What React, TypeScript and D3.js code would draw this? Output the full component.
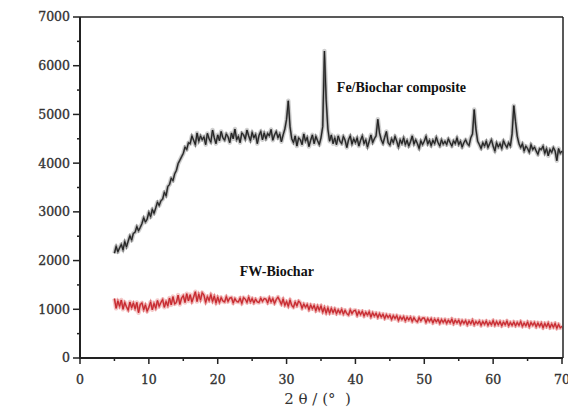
import React from "react";
import * as d3 from "d3";

const X_START = 5;
const X_STEP = 0.25;

// Fe/Biochar composite intensities, 2θ = 5 … 70 step 0.25
const feBiochar: number[] = [
  2150, 2290, 2180, 2260,
  2330, 2220, 2390, 2280,
  2400, 2510, 2420, 2560,
  2580, 2700, 2610, 2680,
  2760, 2880, 2790, 2850,
  2990, 2900, 3050, 2970,
  3080, 3200, 3130, 3230,
  3260, 3400, 3330, 3520,
  3560, 3690, 3640, 3780,
  3850, 3990, 4060, 4130,
  4200, 4330, 4280, 4420,
  4400, 4560, 4470, 4380,
  4620, 4450, 4560, 4480,
  4540, 4380, 4610, 4500,
  4430, 4680, 4520, 4400,
  4580, 4460, 4650, 4520,
  4470, 4600, 4540, 4420,
  4620, 4500, 4700, 4480,
  4550, 4420, 4620, 4580,
  4490, 4680, 4560, 4460,
  4630, 4520, 4590, 4400,
  4570, 4650, 4480, 4620,
  4500, 4610, 4560, 4690,
  4470, 4580, 4650, 4520,
  4600, 4440, 4580, 4700,
  4900, 5280, 4750, 4500,
  4420, 4560, 4350, 4520,
  4480, 4380, 4600, 4450,
  4530, 4340, 4470, 4580,
  4400, 4550, 4460, 4380,
  4520, 4750, 6300, 5300,
  4700, 4450, 4580, 4400,
  4520, 4380, 4560, 4450,
  4400, 4550, 4470, 4320,
  4480, 4560, 4390, 4500,
  4420, 4520, 4350, 4470,
  4560, 4400, 4480, 4330,
  4450, 4580, 4420, 4500,
  4560, 4900, 4620, 4480,
  4400, 4530, 4650, 4420,
  4370, 4500, 4420, 4550,
  4450, 4330, 4480, 4400,
  4520, 4380, 4470, 4350,
  4440, 4560, 4390, 4480,
  4400, 4300, 4460, 4380,
  4450, 4550, 4390, 4470,
  4360, 4470, 4400, 4530,
  4420, 4350, 4480, 4390,
  4450, 4380, 4500, 4420,
  4350, 4460, 4400, 4520,
  4380, 4450, 4330, 4420,
  4480, 4400, 4360, 4520,
  4600, 5100, 4700, 4450,
  4380, 4300, 4420, 4350,
  4450, 4320, 4400, 4480,
  4350, 4250, 4420, 4330,
  4400, 4300, 4460, 4380,
  4320, 4420, 4350, 4600,
  5180, 4850, 4550, 4400,
  4320, 4400, 4250, 4350,
  4300, 4220, 4380, 4280,
  4330, 4250, 4180, 4300,
  4280, 4350, 4200, 4300,
  4150, 4280, 4220, 4320,
  4250, 4050, 4300, 4200,
  4250,
];

// FW-Biochar intensities, 2θ = 5 … 70 step 0.25
const fwBiochar: number[] = [
  1220, 1020, 1170, 1060,
  1190, 1000, 1140, 1050,
  980, 1150, 1030, 1130,
  1010, 1140, 930, 1100,
  1130, 990, 1090, 960,
  1040, 1150, 990, 1120,
  1020, 1180, 1060, 1140,
  1200, 1040, 1160, 1070,
  1230, 1090, 1260, 1110,
  1140, 1290, 1100, 1230,
  1280, 1140, 1320, 1170,
  1300, 1150, 1250, 1360,
  1160, 1310, 1190, 1340,
  1290, 1140, 1260, 1180,
  1300, 1160, 1270, 1130,
  1250, 1140, 1240, 1170,
  1150, 1260, 1160, 1230,
  1240, 1130, 1220, 1160,
  1150, 1230, 1120, 1240,
  1210, 1140, 1250, 1150,
  1220, 1130, 1210, 1150,
  1140, 1230, 1160, 1220,
  1210, 1130, 1240, 1150,
  1220, 1120, 1200, 1250,
  1180, 1100, 1210, 1080,
  1160, 1060, 1190, 1080,
  1040, 1150, 1070, 1170,
  1130, 1020, 1110, 1040,
  1100, 990, 1090, 1010,
  1080, 970, 1070, 980,
  1070, 940, 1040, 920,
  1030, 920, 1020, 930,
  1010, 910, 990, 920,
  1000, 900, 980, 910,
  880, 990, 910, 970,
  980, 870, 960, 890,
  960, 860, 940, 880,
  950, 840, 930, 860,
  920, 830, 910, 840,
  900, 810, 890, 830,
  880, 790, 870, 810,
  870, 770, 850, 790,
  850, 760, 840, 780,
  840, 750, 830, 770,
  740, 830, 760, 820,
  820, 730, 810, 750,
  810, 720, 800, 740,
  800, 710, 790, 730,
  790, 710, 780, 720,
  800, 700, 780, 720,
  780, 690, 770, 710,
  770, 680, 760, 700,
  780, 680, 750, 700,
  760, 670, 750, 690,
  760, 670, 740, 680,
  770, 670, 750, 680,
  750, 660, 740, 680,
  760, 660, 730, 670,
  740, 660, 730, 670,
  750, 650, 720, 660,
  740, 640, 730, 670,
  730, 640, 720, 650,
  720, 620, 710, 640,
  720, 620, 700, 630,
  710, 610, 690, 620,
  650,
];

const xTicks = [0, 10, 20, 30, 40, 50, 60, 70];
const xMinorTicks = [5, 15, 25, 35, 45, 55, 65];
const yTicks = [0, 1000, 2000, 3000, 4000, 5000, 6000, 7000];
const yMinorTicks = [500, 1500, 2500, 3500, 4500, 5500, 6500];
const labelFe = "Fe/Biochar composite";
const labelFw = "FW-Biochar";
const xAxisTitle = "2 θ / (°  )";

export default function App() {
  const W = 568;
  const H = 409;
  const left = 80;
  const right = 562;
  const top = 17;
  const bottom = 358;

  const x = d3.scaleLinear().domain([0, 70]).range([left, right]);
  const y = d3.scaleLinear().domain([0, 7000]).range([bottom, top]);

  const line = d3
    .line<number>()
    .x((_, i) => x(X_START + i * X_STEP))
    .y((d) => y(d));

  const tickFont = "'DejaVu Serif', 'Liberation Serif', serif";
  const feD = line(feBiochar) || "";
  const fwD = line(fwBiochar) || "";

  return (
    <svg
      width={W}
      height={H}
      style={{ position: "absolute", left: 0, top: 0, background: "#fff" }}
    >
      {/* data */}
      <path d={feD} fill="none" stroke="#777" strokeWidth={4.5} strokeOpacity={0.35} strokeLinejoin="round" />
      <path d={feD} fill="none" stroke="#333" strokeWidth={2} strokeOpacity={0.6} />
      <path d={feD} fill="none" stroke="#1e1e1e" strokeWidth={1} />
      <path d={fwD} fill="none" stroke="#e06868" strokeWidth={4.5} strokeOpacity={0.35} strokeLinejoin="round" />
      <path d={fwD} fill="none" stroke="#d03035" strokeWidth={2} strokeOpacity={0.6} />
      <path d={fwD} fill="none" stroke="#c4242a" strokeWidth={1} />

      {/* frame */}
      <line x1={left} x2={right + 1} y1={top} y2={top} stroke="#222" strokeWidth={1.5} />
      <line x1={right + 1} x2={right + 1} y1={top} y2={bottom} stroke="#222" strokeWidth={1.5} />
      <line x1={left} x2={left} y1={top} y2={bottom + 1} stroke="#222" strokeWidth={2} />
      <line x1={left - 1} x2={right + 1} y1={bottom} y2={bottom} stroke="#222" strokeWidth={2} />

      {/* y ticks */}
      {yTicks.map((t) => (
        <g key={"y" + t}>
          <line x1={left - 7} x2={left} y1={y(t)} y2={y(t)} stroke="#222" strokeWidth={1.5} />
          <text
            x={left - 10}
            y={y(t)}
            dy="0.35em"
            textAnchor="end"
            fontFamily={tickFont}
            fontSize={12.5}
            fill="#333"
            stroke="#333"
            strokeWidth={0.35}
          >
            {t}
          </text>
        </g>
      ))}
      {yMinorTicks.map((t) => (
        <line key={"ym" + t} x1={left - 3} x2={left} y1={y(t)} y2={y(t)} stroke="#222" strokeWidth={1.5} />
      ))}

      {/* x ticks */}
      {xTicks.map((t) => (
        <g key={"x" + t}>
          <line x1={x(t)} x2={x(t)} y1={bottom} y2={bottom + 6} stroke="#222" strokeWidth={1.5} />
          <text
            x={x(t)}
            y={bottom + 26}
            textAnchor="middle"
            fontFamily={tickFont}
            fontSize={12.5}
            fill="#333"
            stroke="#333"
            strokeWidth={0.35}
          >
            {t}
          </text>
        </g>
      ))}
      {xMinorTicks.map((t) => (
        <line key={"xm" + t} x1={x(t)} x2={x(t)} y1={bottom} y2={bottom + 3} stroke="#222" strokeWidth={1.5} />
      ))}

      {/* axis title */}
      <text
        x={x(34.5)}
        y={404}
        textAnchor="middle"
        fontFamily={tickFont}
        fontSize={15}
        fill="#333"
        style={{ whiteSpace: "pre" }}
      >
        {xAxisTitle}
      </text>

      {/* annotations */}
      <text
        x={x(37.3)}
        y={92}
        fontFamily="'Liberation Serif', 'Times New Roman', serif"
        fontWeight="bold"
        fontSize={14}
        fill="#111"
      >
        {labelFe}
      </text>
      <text
        x={x(23.2)}
        y={276}
        fontFamily="'Liberation Serif', 'Times New Roman', serif"
        fontWeight="bold"
        fontSize={14}
        fill="#111"
      >
        {labelFw}
      </text>
    </svg>
  );
}
